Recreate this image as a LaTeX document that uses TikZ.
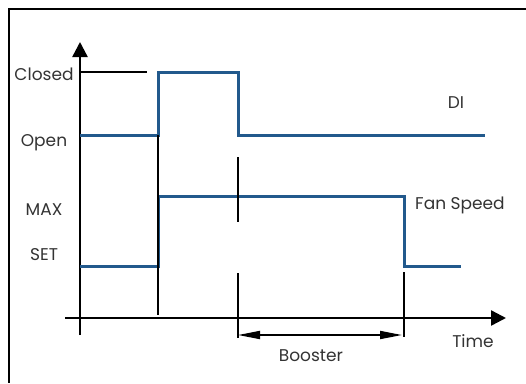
\documentclass[tikz,border=0pt]{standalone}
\usepackage{fontspec}
\setmainfont{Poppins}
\usepackage{xcolor}
\usepackage{tikz}
\usetikzlibrary{arrows.meta}

\definecolor{sigblue}{HTML}{22598C}
\definecolor{labelgray}{HTML}{333333}

\begin{document}
\begin{tikzpicture}[
    x=1pt, y=-1pt,
    frame/.style={draw=black, line width=2pt},
    axis/.style={line width=2.4pt, -{Triangle[length=15pt, width=15pt]}},
    signal/.style={draw=sigblue, line width=3pt},
    marker/.style={draw=black, line width=1.5pt},
    span/.style={line width=1.8pt, {Triangle[length=22pt, width=8pt]}-{Triangle[length=22pt, width=8pt]}},
    lbl/.style={text=labelgray, font=\fontsize{17}{19}\selectfont, inner sep=0pt}
]

\useasboundingbox (0,0) rectangle (526,383);

% frame (cut off at right and bottom)
\draw[frame] (526,9) -- (9,9) -- (9,383);

% axes
\coordinate (origin) at (80,318);
\coordinate (ytop) at (80,42);
\coordinate (ybot) at (80,335);
\coordinate (xleft) at (65,318);
\coordinate (xright) at (506,318);
\draw[axis] (ybot) -- (ytop);
\draw[axis] (xleft) -- (xright);

% level labels
\node[lbl] (closed) at (44,74) {Closed};
\node[lbl] (open) at (44,143) {Open};
\node[lbl] (max) at (44,210) {MAX};
\node[lbl] (set) at (44,255) {SET};

\draw[marker] (80,72) -- (147,72);

% DI signal
\draw[signal] (80,135) -- (158,135) -- (158,72) -- (238,72) -- (238,135) -- (485,135);
\node[lbl] (di) at (456,103) {DI};

% fan speed signal
\draw[signal] (80,266) -- (158,266) -- (158,196) -- (404,196) -- (404,266) -- (461,266);
\node[lbl, anchor=west] (fan) at (415,205) {Fan Speed};

% event markers
\draw[marker] (158,135) -- (158,315);
\draw[marker] (238,157) -- (238,222);
\draw[marker] (238,273) -- (238,338);
\draw[marker] (404,272) -- (404,337);

% booster span
\coordinate (bstart) at (238,335);
\coordinate (bend) at (402,335);
\draw[span] (bstart) -- (bend);
\node[lbl] (booster) at (311,356) {Booster};
\node[lbl] (time) at (473,341) {Time};

\end{tikzpicture}
\end{document}
